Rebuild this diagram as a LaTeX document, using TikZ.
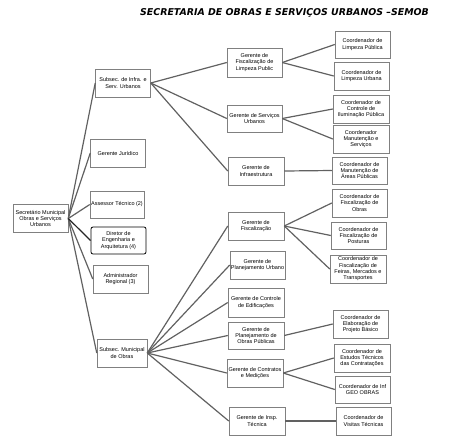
\documentclass[tikz,border=0pt]{standalone}
\usepackage{fontspec}
\setmainfont{Liberation Sans}
\newfontfamily\titlefont{DejaVu Sans}
\begin{document}
\begin{tikzpicture}[x=1pt,y=-1pt,
  box/.style={draw=black!50, line width=0.5pt, fill=white, minimum width=55pt, minimum height=28pt,
    inner sep=0pt, align=center, font=\fontsize{5.5}{6.3}\selectfont},
  dirbox/.style={box, draw=black, line width=0.8pt, rounded corners=2pt},
  link/.style={draw=black!62, line width=1.2pt},
  darklink/.style={draw=black!85, line width=1.2pt}]
\useasboundingbox (0,0) rectangle (463,445);
\node[font=\titlefont\bfseries\itshape\fontsize{9.4}{11}\selectfont, anchor=west, inner sep=0pt] (title) at (140,12.5) {SECRETARIA DE OBRAS E SERVIÇOS URBANOS –SEMOB};
% left column
\node[box] (sec) at (40.5,218.5) {Secretário Municipal\\Obras e Serviços\\Urbanos};
\node[box] (sinfra) at (123,83) {Subsec. de Infra. e\\Serv. Urbanos};
\node[box] (gjur) at (118,153) {Gerente Jurídico};
\node[box, minimum width=54pt, minimum height=27pt] (asses) at (117,204.5) {Assessor Técnico (2)};
\node[dirbox, minimum height=27pt] (dir) at (118.5,240.5) {Diretor de\\Engenharia e\\Arquitetura (4)};
\node[box] (adm) at (120.5,279) {Administrador\\Regional (3)};
\node[box, minimum width=50pt] (sobras) at (122,353) {Subsec. Municipal\\de Obras};
% gerentes
\node[box, minimum height=29pt] (g1) at (254.5,62.5) {Gerente de\\Fiscalização de\\Limpeza Public};
\node[box, minimum height=27pt] (g2) at (254.5,118.5) {Gerente de Serviços\\Urbanos};
\node[box, minimum width=56pt] (g3) at (256,171) {Gerente de\\Infraestrutura};
\node[box, minimum width=56pt] (g4) at (256,226) {Gerente de\\Fiscalização};
\node[box] (g5) at (257.5,265) {Gerente de\\Planejamento Urbano};
\node[box, minimum width=56pt, minimum height=29pt] (g6) at (256,302.5) {Gerente de Controle\\de Edificações};
\node[box, minimum width=56pt, minimum height=27pt] (g7) at (256,335.5) {Gerente de\\Planejamento de\\Obras Públicas};
\node[box, minimum width=56pt] (g8) at (255,373) {Gerente de Contratos\\e Medições};
\node[box, minimum width=56pt] (g9) at (257,421) {Gerente de Insp.\\Técnica};
% coordenadores
\node[box, minimum height=27pt] (c1) at (362.5,44.5) {Coordenador de\\Limpeza Pública};
\node[box] (c2) at (361.5,76) {Coordenador de\\Limpeza Urbana};
\node[box, minimum width=56pt] (c3) at (361,109) {Coordenador de\\Controle de\\Iluminação Pública};
\node[box, minimum width=56pt] (c4) at (361,139) {Coordenador\\Manutenção e\\Serviços};
\node[box, minimum height=27pt] (c5) at (359.5,170.5) {Coordenador de\\Manutenção de\\Áreas Públicas};
\node[box] (c6) at (359.5,203) {Coordenador de\\Fiscalização de\\Obras};
\node[box, minimum height=27pt] (c7) at (358.5,235.5) {Coordenador de\\Fiscalização de\\Posturas};
\node[box, minimum width=56pt] (c8) at (358,269) {Coordenador de\\Fiscalização de\\Feiras, Mercados e\\Transportes};
\node[box] (c9) at (360.5,324) {Coordenador de\\Elaboração de\\Projeto Básico};
\node[box, minimum width=56pt] (c10) at (362,358) {Coordenador de\\Estudos Técnicos\\das Contratações};
\node[box, minimum height=27pt] (c11) at (362.5,389.5) {Coordenador de Inf\\GEO OBRAS};
\node[box] (c12) at (363.5,421) {Coordenador de\\Visitas Técnicas};
% connectors
\foreach \t in {sinfra,gjur,asses,adm,sobras}{\draw[link] (sec.east) -- (\t.west);}
\draw[darklink] (sec.east) -- (dir.west);
\foreach \t in {g1,g2,g3}{\draw[link] (sinfra.east) -- (\t.west);}
\foreach \t in {g4,g5,g6,g7,g8,g9}{\draw[link] (sobras.east) -- (\t.west);}
\foreach \t in {c1,c2}{\draw[link] (g1.east) -- (\t.west);}
\foreach \t in {c3,c4}{\draw[link] (g2.east) -- (\t.west);}
\draw[link] (g3.east) -- (c5.west);
\foreach \t in {c6,c7,c8}{\draw[link] (g4.east) -- (\t.west);}
\draw[link] (g7.east) -- (c9.west);
\foreach \t in {c10,c11}{\draw[link] (g8.east) -- (\t.west);}
\draw[link] (g9.east) -- (c12.west);
\end{tikzpicture}
\end{document}
